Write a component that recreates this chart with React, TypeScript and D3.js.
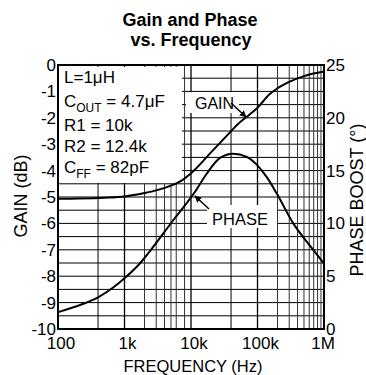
import React from "react";
import * as d3 from "d3";

// ---- data ----
const gainFreq = [100, 200, 500, 1000, 2000, 3000, 5000, 7000, 10000, 20000, 37000, 50000, 70000, 100000, 150000, 200000, 300000, 500000, 1000000];
const gainDb = [-5.07, -5.06, -5.03, -4.98, -4.85, -4.75, -4.57, -4.4, -4.1, -3.31, -2.6, -2.25, -1.95, -1.62, -1.12, -0.88, -0.64, -0.42, -0.25];
const phaseFreq = [100, 200, 400, 700, 1000, 1700, 2500, 5400, 11500, 17200, 27300, 43000, 69000, 137000, 194000, 345000, 690000, 1000000];
const phaseDeg = [1.6, 2.2, 3.0, 4.0, 4.8, 6.2, 7.5, 10.3, 13.0, 14.7, 16.2, 16.6, 16.3, 14.4, 12.85, 10.0, 7.5, 6.2];
const xTicks = [100, 1000, 10000, 100000, 1000000];
const xTickLabels = ["100", "1k", "10k", "100k", "1M"];
const xMinor = [400, 2000, 3000, 4000, 5000, 6000, 8000, 40000, 200000, 300000, 400000, 500000, 600000, 700000, 800000, 900000];
const yLeftTicks = [0, -1, -2, -3, -4, -5, -6, -7, -8, -9, -10];
const yRightTicks = [0, 5, 10, 15, 20, 25];
const legendLines = [
  { main: "L=1μH", sub: "", rest: "" },
  { main: "C", sub: "OUT", rest: " = 4.7μF" },
  { main: "R1 = 10k", sub: "", rest: "" },
  { main: "R2 = 12.4k", sub: "", rest: "" },
  { main: "C", sub: "FF", rest: " = 82pF" },
];

const L = 58, R = 324, T = 65, B = 329;
const FONT = "'Liberation Sans', Arial, sans-serif";

export default function App() {
  const x = d3.scaleLog().domain([100, 1e6]).range([L, R]);
  const yL = d3.scaleLinear().domain([-10, 0]).range([B, T]);
  const yR = d3.scaleLinear().domain([0, 25]).range([B, T]);

  const gainLine = d3
    .line<number>()
    .x((_, i) => x(gainFreq[i]))
    .y((d) => yL(d))
    .curve(d3.curveMonotoneX)(gainDb) as string;
  const phaseLine = d3
    .line<number>()
    .x((_, i) => x(phaseFreq[i]))
    .y((d) => yR(d))
    .curve(d3.curveMonotoneX)(phaseDeg) as string;

  const hGrid = d3.range(-9.5, 0, 0.5);
  const legendY = [83, 107, 131, 152, 173];

  return (
    <svg width={366} height={375} style={{ position: "absolute", left: 0, top: 0 }} fontFamily={FONT}>
      <defs>
        <marker id="ah" viewBox="0 0 10 10" refX="9" refY="5" markerWidth="7" markerHeight="7" orient="auto" markerUnits="userSpaceOnUse">
          <path d="M0,0 L10,5 L0,10 z" fill="#000" />
        </marker>
      </defs>
      <rect width={366} height={375} fill="#fff" />
      <text x={190} y={26} textAnchor="middle" fontSize={18} fontWeight="bold">Gain and Phase</text>
      <text x={191} y={46} textAnchor="middle" fontSize={18} fontWeight="bold">vs. Frequency</text>

      {/* grid */}
      {hGrid.map((v) => (
        <line key={"h" + v} x1={L} x2={R} y1={yL(v)} y2={yL(v)} stroke="#000" strokeWidth={1} />
      ))}
      {xMinor.map((f) => (
        <line key={"m" + f} x1={x(f)} x2={x(f)} y1={T} y2={B} stroke={f === 400 || f === 40000 ? "#000" : "#333"} strokeWidth={1} />
      ))}
      {xTicks.slice(1, -1).map((f) => (
        <line key={"v" + f} x1={x(f)} x2={x(f)} y1={T} y2={B} stroke="#000" strokeWidth={1.3} />
      ))}

      {/* legend box */}
      <rect x={L + 1} y={T + 2} width={182 - L - 1} height={183 - T - 2} fill="#fff" />
      {legendLines.map((l, i) => (
        <text key={i} x={64} y={legendY[i]} fontSize={17}>
          {l.main}
          {l.sub && (
            <tspan fontSize={12} dy={5}>{l.sub}</tspan>
          )}
          {l.rest && <tspan dy={l.sub ? -5 : 0}>{l.rest}</tspan>}
        </text>
      ))}

      {/* label boxes */}
      <rect x={186} y={92} width={53} height={21} fill="#fff" />
      <rect x={207} y={205} width={70} height={23} fill="#fff" />

      {/* curves */}
      <path d={gainLine} fill="none" stroke="#000" strokeWidth={2} />
      <path d={phaseLine} fill="none" stroke="#000" strokeWidth={2} />

      {/* annotations */}
      <text x={195} y={108.5} fontSize={16}>GAIN</text>
      <line x1={231} y1={103} x2={246} y2={117} stroke="#000" strokeWidth={1.5} markerEnd="url(#ah)" />
      <text x={212} y={224.5} fontSize={16.5}>PHASE</text>
      <line x1={209} y1={209} x2={195} y2={196} stroke="#000" strokeWidth={1.5} markerEnd="url(#ah)" />

      {/* border */}
      <rect x={L} y={T} width={R - L} height={B - T} fill="none" stroke="#000" strokeWidth={2} />

      {/* left ticks */}
      {yLeftTicks.map((v) => (
        <text key={"l" + v} x={56} y={yL(v)} dy="0.35em" textAnchor="end" fontSize={17}>{v}</text>
      ))}
      {/* right ticks */}
      {yRightTicks.map((v) => (
        <text key={"r" + v} x={326} y={yR(v)} dy="0.35em" textAnchor="start" fontSize={17}>{v}</text>
      ))}
      {/* x ticks */}
      {xTicks.map((f, i) => (
        <text key={"x" + f} x={x(f) + (i === 4 ? -1 : 3)} y={349} textAnchor="middle" fontSize={17}>{xTickLabels[i]}</text>
      ))}

      <text x={193} y={372} textAnchor="middle" fontSize={16.5}>FREQUENCY (Hz)</text>
      <text transform={`translate(27,196) rotate(-90)`} textAnchor="middle" fontSize={18}>GAIN (dB)</text>
      <text transform={`translate(363,200) rotate(-90)`} textAnchor="middle" fontSize={18}>PHASE BOOST (°)</text>
    </svg>
  );
}
